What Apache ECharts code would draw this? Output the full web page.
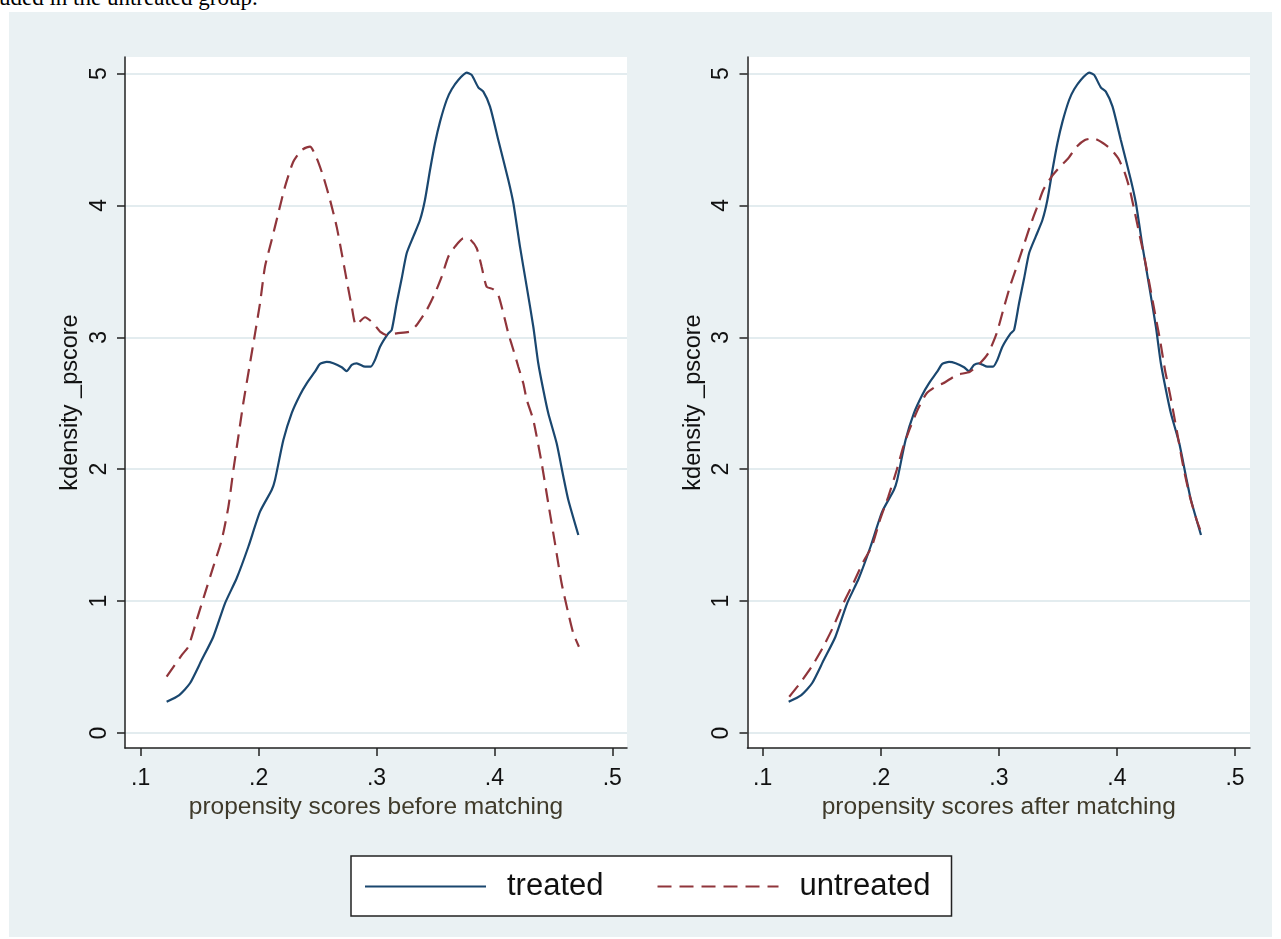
<!DOCTYPE html>
<html lang="en">
<head>
<meta charset="UTF-8">
<title>kdensity _pscore</title>
<script src="https://cdn.jsdelivr.net/npm/echarts@6/dist/echarts.min.js"></script>
<style>
  body { margin: 0; width: 1281px; height: 939px; overflow: hidden; background: #fff; position: relative; }
  #bg { position: absolute; left: 9px; top: 12px; width: 1263px; height: 925px; background: #eaf1f3; }
  #cap { position: absolute; left: -1px; top: -15px; font-family: 'Liberation Serif', 'Times New Roman', serif;
         font-size: 23px; color: #000; white-space: nowrap; }
  #main { position: absolute; left: 0; top: 0; width: 1281px; height: 939px; }
</style>
</head>
<body>
<div id="bg"></div>
<div id="cap">uded in the untreated group.</div>
<div id="main"></div>
<script>
// tick labels
var xTicks = [0.1, 0.2, 0.3, 0.4, 0.5];
var yTicks = [0, 1, 2, 3, 4, 5];

// kdensity of the propensity score, treated group (same curve in both panels)
var treated = [
  [0.122,0.237],[0.1327,0.288],[0.1418,0.377],[0.1517,0.553],[0.1616,0.73],[0.1715,0.983],
  [0.1814,1.173],[0.1913,1.412],[0.2012,1.678],[0.2111,1.842],[0.2139,1.918],[0.221,2.221],
  [0.228,2.424],[0.2351,2.563],[0.2408,2.651],[0.2478,2.739],[0.2521,2.798],[0.2578,2.813],
  [0.2634,2.803],[0.2705,2.773],[0.2747,2.744],[0.279,2.79],[0.2832,2.803],[0.2903,2.777],
  [0.2951,2.777],[0.2987,2.828],[0.303,2.929],[0.31,3.03],[0.3129,3.055],[0.3171,3.258],
  [0.3214,3.447],[0.3256,3.637],[0.3312,3.763],[0.3369,3.889],[0.3411,4.041],[0.3454,4.268],
  [0.3496,4.471],[0.3539,4.635],[0.3595,4.799],[0.3638,4.88],[0.3694,4.951],[0.3765,5.006],
  [0.3807,4.989],[0.3863,4.895],[0.3906,4.862],[0.3963,4.749],[0.4033,4.496],[0.4118,4.193],
  [0.4161,4.016],[0.4217,3.687],[0.4274,3.384],[0.433,3.08],[0.4372,2.803],[0.4415,2.6],
  [0.4457,2.424],[0.4528,2.196],[0.4585,1.943],[0.4627,1.766],[0.4712,1.501]
];

// untreated group before matching
var untreatedBefore = [
  [0.122,0.427],[0.1348,0.591],[0.1404,0.654],[0.1475,0.857],[0.1545,1.059],[0.1616,1.261],
  [0.1687,1.463],[0.1744,1.716],[0.1786,1.994],[0.1828,2.246],[0.187,2.5],[0.1927,2.803],
  [0.197,3.03],[0.2012,3.258],[0.2054,3.535],[0.2111,3.738],[0.2167,3.94],[0.2224,4.142],
  [0.2294,4.331],[0.2365,4.42],[0.2436,4.445],[0.2493,4.357],[0.2549,4.218],[0.2606,4.041],
  [0.2662,3.839],[0.2705,3.637],[0.2747,3.434],[0.279,3.232],[0.2826,3.093],[0.2903,3.152],
  [0.2973,3.106],[0.303,3.043],[0.3087,3.017],[0.3171,3.03],[0.3284,3.043],[0.3341,3.093],
  [0.3426,3.207],[0.3496,3.334],[0.3553,3.46],[0.3609,3.611],[0.3666,3.687],[0.3736,3.75],
  [0.3793,3.743],[0.385,3.675],[0.3892,3.535],[0.3934,3.384],[0.3991,3.364],[0.4033,3.321],
  [0.4076,3.182],[0.4118,3.03],[0.4161,2.904],[0.4203,2.777],[0.4245,2.651],[0.4275,2.525],
  [0.433,2.373],[0.4401,2.045],[0.4457,1.741],[0.4514,1.438],[0.457,1.135],[0.4627,0.907],
  [0.4669,0.756],[0.4717,0.654]
];

// untreated group after matching
var untreatedAfter = [
  [0.1225,0.275],[0.1316,0.377],[0.1415,0.503],[0.1513,0.654],[0.1598,0.806],[0.1683,0.983],
  [0.1767,1.135],[0.1852,1.299],[0.1923,1.412],[0.1993,1.615],[0.2064,1.792],[0.2135,1.994],
  [0.2191,2.171],[0.2247,2.31],[0.2318,2.462],[0.2389,2.576],[0.2473,2.631],[0.2529,2.651],
  [0.2643,2.714],[0.2755,2.739],[0.284,2.803],[0.291,2.879],[0.2981,3.03],[0.3037,3.207],
  [0.3094,3.384],[0.3151,3.535],[0.3207,3.687],[0.3263,3.839],[0.332,3.978],[0.3376,4.117],
  [0.3447,4.218],[0.3518,4.293],[0.3588,4.357],[0.3659,4.445],[0.3729,4.496],[0.3799,4.508],
  [0.3884,4.471],[0.3955,4.42],[0.4011,4.357],[0.4068,4.243],[0.411,4.117],[0.4153,3.94],
  [0.4195,3.763],[0.4237,3.586],[0.428,3.384],[0.4322,3.182],[0.4365,2.98],[0.4407,2.752],
  [0.4449,2.57],[0.4506,2.297],[0.4562,2.019],[0.4618,1.792],[0.4675,1.615],[0.4717,1.514]
];

var FONT = "'Liberation Sans', Arial, sans-serif";
var NAVY = '#1a476f';
var MAROON = '#90353b';
var GRIDCOL = '#e3ecef';
var AXISCOL = '#222';

function xAxisOf(idx, min, max, title) {
  return {
    type: 'value', gridIndex: idx, min: min, max: max,
    name: title, nameLocation: 'middle', nameGap: 43,
    nameTextStyle: { fontFamily: FONT, fontSize: 24.5, color: '#3f3a2a' },
    axisLine: { show: true, onZero: false, lineStyle: { color: AXISCOL, width: 1.5 } },
    axisTick: { show: true, length: 8, customValues: xTicks, lineStyle: { color: AXISCOL, width: 1.5 } },
    axisLabel: {
      customValues: xTicks, margin: 19, fontFamily: FONT, fontSize: 23, color: '#111',
      formatter: function (v) { return String(v).replace(/^0/, ''); }
    },
    splitLine: { show: false }
  };
}

function yAxisOf(idx) {
  return {
    type: 'value', gridIndex: idx, min: -0.1137, max: 5.125,
    name: 'kdensity _pscore', nameLocation: 'middle', nameGap: 42,
    nameTextStyle: { fontFamily: FONT, fontSize: 23.5, color: '#111' },
    axisLine: { show: true, onZero: false, lineStyle: { color: AXISCOL, width: 1.5 } },
    axisTick: { show: true, length: 8, customValues: yTicks, lineStyle: { color: AXISCOL, width: 1.5 } },
    axisLabel: { customValues: yTicks, rotate: 90, margin: 14, fontFamily: FONT, fontSize: 23, color: '#111' },
    splitLine: { show: true, lineStyle: { color: GRIDCOL, width: 2 } }
  };
}

function lineSeries(name, data, idx, color, dashed) {
  return {
    name: name, type: 'line', xAxisIndex: idx, yAxisIndex: idx, data: data,
    symbol: 'none', showSymbol: false, smooth: 0.2,
    lineStyle: { color: color, width: 2.2, type: dashed ? [14, 8] : 'solid' },
    itemStyle: { color: color }
  };
}

var chart = echarts.init(document.getElementById('main'), null, { renderer: 'canvas' });
chart.setOption({
  animation: false,
  backgroundColor: 'transparent',
  grid: [
    { left: 125, top: 57, width: 502, height: 691, show: true, backgroundColor: '#fff', borderWidth: 0 },
    { left: 747.5, top: 57, width: 502.5, height: 691, show: true, backgroundColor: '#fff', borderWidth: 0 }
  ],
  xAxis: [
    xAxisOf(0, 0.08668, 0.51247, 'propensity scores before matching'),
    xAxisOf(1, 0.08713, 0.5127, 'propensity scores after matching')
  ],
  yAxis: [yAxisOf(0), yAxisOf(1)],
  legend: {
    left: 351, top: 856,
    data: ['treated', 'untreated'],
    backgroundColor: '#fff', borderColor: '#222', borderWidth: 1.5,
    padding: [15, 21, 14, 13],
    itemWidth: 121, itemHeight: 20, itemGap: 53,
    itemStyle: { opacity: 0 },
    textStyle: { fontFamily: FONT, fontSize: 31, color: '#111', padding: [0, 0, 0, 16] }
  },
  series: [
    lineSeries('treated', treated, 0, NAVY, false),
    lineSeries('untreated', untreatedBefore, 0, MAROON, true),
    lineSeries('treated', treated, 1, NAVY, false),
    lineSeries('untreated', untreatedAfter, 1, MAROON, true)
  ]
});
</script>
</body>
</html>
